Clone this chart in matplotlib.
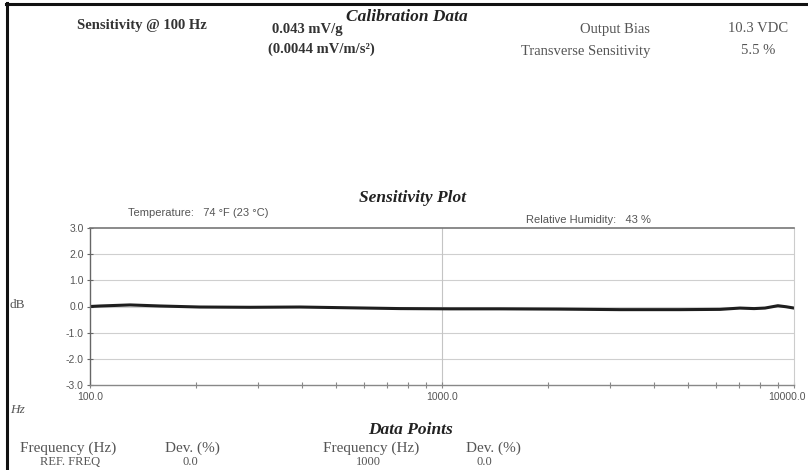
import matplotlib.pyplot as plt
from matplotlib.lines import Line2D
from matplotlib.ticker import FixedLocator, FuncFormatter, NullFormatter
from matplotlib.transforms import ScaledTranslation

# sensitivity deviation curve (dB)
freq_hz = [100, 107, 130, 158, 205, 285, 395, 548, 760, 1055, 1460, 2160,
           3200, 4740, 6160, 7020, 7700, 8270, 9000, 9500, 10000]
dev_db = [0.0, 0.02, 0.06, 0.02, -0.02, -0.03, -0.02, -0.05, -0.08, -0.09, -0.09,
          -0.10, -0.12, -0.12, -0.11, -0.06, -0.08, -0.06, 0.03, -0.01, -0.06]

y_ticks = [3.0, 2.0, 1.0, 0.0, -1.0, -2.0, -3.0]
x_ticks = [100, 1000, 10000]

W, H = 808, 470
SERIF = "Liberation Serif"
SANS = "Liberation Sans"


def px(x, y):
    return x / W, 1 - y / H


fig = plt.figure(figsize=(W / 100, H / 100), dpi=100)
fig.patch.set_facecolor("white")

# page frame (left edge and top rule of the scanned sheet)
fig.add_artist(Line2D([7 / W, 7 / W], [0, 1 - 3 / H], color="#111111", lw=2.2))
fig.add_artist(Line2D([6 / W, 1], [1 - 4 / H, 1 - 4 / H], color="#111111", lw=2.2))


def txt(x, y, s, size=9, weight="normal", style="normal", ha="left", color="#333333", family=SERIF):
    fx, fy = px(x, y)
    fig.text(fx, fy, s, fontsize=size, fontweight=weight, fontstyle=style,
             ha=ha, va="center", color=color, family=family)


# header block
txt(407, 17, "Calibration Data", size=12.5, weight="bold", style="italic", ha="center", color="#222222")
txt(77, 25, "Sensitivity @ 100 Hz", size=10.5, weight="bold", color="#333333")
txt(272, 30, "0.043 mV/g", size=10.5, weight="bold", color="#333333")
txt(268, 49, "(0.0044 mV/m/s²)", size=10.5, weight="bold", color="#333333")
txt(650, 29, "Output Bias", size=10.5, ha="right", color="#555555")
txt(650, 51, "Transverse Sensitivity", size=10.5, ha="right", color="#555555")
txt(758, 29, "10.3 VDC", size=10.5, ha="center", color="#555555")
txt(758, 51, "5.5 %", size=10.5, ha="center", color="#555555")

# plot titles / conditions
txt(413, 198, "Sensitivity Plot", size=12.5, weight="bold", style="italic", ha="center", color="#222222")
txt(128, 213, "Temperature:   74 °F (23 °C)", size=8, color="#555555", family=SANS)
txt(526, 220, "Relative Humidity:   43 %", size=8, color="#555555", family=SANS)
txt(10, 305, "dB", size=9.5, color="#555555")
txt(10, 410, "Hz", size=9.5, style="italic", color="#555555")

# data points table header (cut off at the bottom of the scan)
txt(410, 430, "Data Points", size=12.5, weight="bold", style="italic", ha="center", color="#222222")
txt(20, 448, "Frequency (Hz)", size=11, color="#555555")
txt(165, 448, "Dev. (%)", size=11, color="#555555")
txt(323, 448, "Frequency (Hz)", size=11, color="#555555")
txt(466, 448, "Dev. (%)", size=11, color="#555555")
txt(70, 462, "REF. FREQ", size=9, ha="center", color="#555555")
txt(190, 462, "0.0", size=9, ha="center", color="#555555")
txt(368, 462, "1000", size=9, ha="center", color="#555555")
txt(484, 462, "0.0", size=9, ha="center", color="#555555")

# sensitivity plot
l, r, t, b = 90, 794, 228, 385
ax = fig.add_axes([l / W, 1 - b / H, (r - l) / W, (b - t) / H])
ax.plot(freq_hz, dev_db, color="#1e1e1e", lw=2.2, solid_joinstyle="round")
ax.set_xscale("log")
ax.set_xlim(100, 10000)
ax.set_ylim(-3, 3)

ax.yaxis.set_major_locator(FixedLocator(y_ticks))
ax.yaxis.set_major_formatter(FuncFormatter(lambda v, _: f"{v:.1f}"))
ax.xaxis.set_major_locator(FixedLocator(x_ticks))
ax.xaxis.set_major_formatter(FuncFormatter(lambda v, _: f"{v:.1f}"))
ax.xaxis.set_minor_formatter(NullFormatter())

for yv in y_ticks[1:-1]:
    ax.axhline(yv, color="#cfcfcf", lw=0.8, zorder=0)
ax.axvline(1000, color="#c4c4c4", lw=0.8, zorder=0)

ax.spines["top"].set_color("#777777")
ax.spines["top"].set_linewidth(1.2)
ax.spines["right"].set_color("#cccccc")
ax.spines["right"].set_linewidth(0.8)
ax.spines["left"].set_color("#666666")
ax.spines["left"].set_linewidth(1.0)
ax.spines["bottom"].set_color("#888888")
ax.spines["bottom"].set_linewidth(1.0)

ax.tick_params(axis="y", which="major", direction="inout", length=5, width=0.8,
               colors="#666666", labelsize=7.5, labelcolor="#555555", pad=2)
ax.tick_params(axis="x", which="both", direction="inout", length=4, width=0.8,
               colors="#888888", labelsize=7.5, labelcolor="#555555", pad=3)
for lab in ax.get_xticklabels() + ax.get_yticklabels():
    lab.set_family(SANS)

# last x label sits against the right edge of the sheet; keep it inside
last = ax.xaxis.get_major_ticks()[-1].label1
last.set_horizontalalignment("right")
last.set_transform(last.get_transform() + ScaledTranslation(12 / 100, 0, fig.dpi_scale_trans))

fig.savefig("out.png", dpi=100, facecolor="white")
